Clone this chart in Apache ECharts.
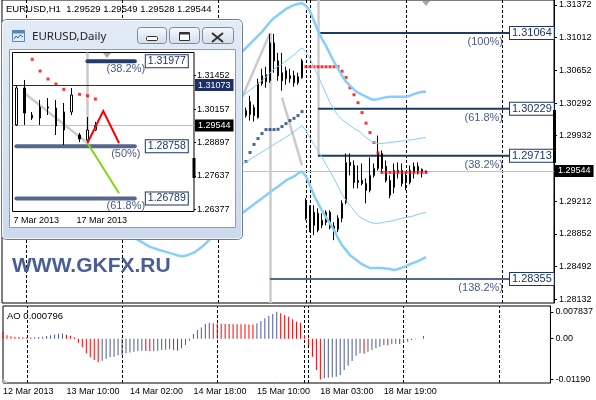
<!DOCTYPE html>
<html>
<head>
<meta charset="utf-8">
<title>EURUSD,H1</title>
<script src="https://cdn.jsdelivr.net/npm/echarts/dist/echarts.min.js"></script>
<style>
  html, body { margin: 0; padding: 0; background: #fff; }
  #chart { width: 596px; height: 400px; }
</style>
</head>
<body>
<div id="chart"></div>
<script>
// ---------------- EURUSD H1 ----------------
const symbol = 'EURUSD';
const hourDays = [['12 Mar', 18, 23], ['13 Mar', 0, 23], ['14 Mar', 0, 23], ['15 Mar', 0, 21],
                  ['17 Mar', 23, 23], ['18 Mar', 0, 23], ['19 Mar', 0, 23], ['20 Mar', 0, 13]];
const timeTicks = ['12 Mar 18:00', '13 Mar 10:00', '14 Mar 02:00', '14 Mar 18:00', '15 Mar 10:00', '18 Mar 03:00', '18 Mar 19:00'];
const timeTickText = { '12 Mar 18:00': '12 Mar 2013' };

const priceTicks = [1.31372, 1.31012, 1.30652, 1.30292, 1.29932, 1.29212, 1.28852, 1.28492, 1.28132];
const priceMin = 1.28090, priceMax = 1.31427;

// open, close, low, high
const candleStart = 61;
const candles = [
  [1.30154, 1.30209, 1.30132, 1.30242], [1.30165, 1.30307, 1.30099, 1.30373], [1.30242, 1.30154, 1.30088, 1.30275],
  [1.30132, 1.30516, 1.30121, 1.30560], [1.30505, 1.30593, 1.30483, 1.30670], [1.30604, 1.30527, 1.30461, 1.30692],
  [1.30538, 1.30955, 1.30516, 1.31054], [1.30955, 1.30757, 1.30626, 1.31054], [1.30757, 1.30593, 1.30538, 1.30845],
  [1.30626, 1.30538, 1.30428, 1.30845], [1.30648, 1.30560, 1.30494, 1.30692], [1.30560, 1.30593, 1.30516, 1.30670],
  [1.30593, 1.30516, 1.30472, 1.30648], [1.30516, 1.30582, 1.30494, 1.30626], [1.30571, 1.30757, 1.30560, 1.30779],
  [1.29221, 1.29023, 1.29001, 1.29243], [1.29133, 1.28892, 1.28870, 1.29166], [1.29089, 1.28946, 1.28837, 1.29166],
  [1.29078, 1.28892, 1.28870, 1.29133], [1.28946, 1.29001, 1.28913, 1.29078], [1.28979, 1.29089, 1.28946, 1.29111],
  [1.29089, 1.28924, 1.28902, 1.29111], [1.28935, 1.28902, 1.28782, 1.28979], [1.28902, 1.29023, 1.28870, 1.29056],
  [1.29023, 1.29188, 1.28979, 1.29221], [1.29199, 1.29638, 1.29177, 1.29737], [1.29638, 1.29605, 1.29495, 1.29737],
  [1.29605, 1.29418, 1.29353, 1.29660], [1.29418, 1.29440, 1.29353, 1.29605], [1.29440, 1.29407, 1.29385, 1.29627],
  [1.29407, 1.29331, 1.29188, 1.29462], [1.29331, 1.29495, 1.29309, 1.29693], [1.29495, 1.29572, 1.29473, 1.29627],
  [1.29572, 1.29737, 1.29550, 1.29934], [1.29737, 1.29572, 1.29528, 1.29770], [1.29594, 1.29440, 1.29418, 1.29660],
  [1.29440, 1.29276, 1.29243, 1.29495], [1.29364, 1.29550, 1.29298, 1.29627], [1.29528, 1.29550, 1.29462, 1.29638],
  [1.29550, 1.29407, 1.29374, 1.29627], [1.29484, 1.29418, 1.29331, 1.29528], [1.29418, 1.29550, 1.29396, 1.29605],
  [1.29528, 1.29594, 1.29462, 1.29638], [1.29594, 1.29550, 1.29506, 1.29638], [1.29539, 1.29561, 1.29473, 1.29572],
  [1.29529, 1.29544, 1.29528, 1.29549]
];

// Bollinger envelopes
const bandStart = 60;
const bbUpperWide = [1.30856, 1.30900, 1.30944, 1.30988, 1.31032, 1.31076, 1.31131, 1.31185, 1.31229, 1.31262, 1.31295,
  1.31328, 1.31350, 1.31372, 1.31383, 1.31394, 1.31361, 1.31306, 1.31196, 1.31087, 1.30999, 1.30922, 1.30834, 1.30746,
  1.30670, 1.30593, 1.30527, 1.30483, 1.30439, 1.30406, 1.30384, 1.30362, 1.30340, 1.30329, 1.30335, 1.30346, 1.30357,
  1.30362, 1.30362, 1.30362, 1.30362, 1.30362, 1.30373, 1.30390, 1.30406, 1.30417, 1.30417];
const bbUpperNarrow = [1.30368, 1.30401, 1.30434, 1.30467, 1.30505, 1.30538, 1.30582, 1.30626, 1.30665, 1.30697, 1.30724,
  1.30757, 1.30790, 1.30823, 1.30867, 1.30900, 1.30856, 1.30779, 1.30681, 1.30593, 1.30494, 1.30395, 1.30296, 1.30220,
  1.30154, 1.30110, 1.30077, 1.30044, 1.30011, 1.29989, 1.29956, 1.29912, 1.29879, 1.29857, 1.29846, 1.29846, 1.29852,
  1.29857, 1.29863, 1.29868, 1.29874, 1.29879, 1.29885, 1.29890, 1.29901, 1.29907, 1.29912];
const bbLowerNarrow = [1.29616, 1.29644, 1.29671, 1.29699, 1.29726, 1.29753, 1.29781, 1.29808, 1.29835, 1.29863, 1.29890,
  1.29918, 1.29945, 1.29978, 1.30011, 1.30044, 1.29989, 1.29912, 1.29835, 1.29770, 1.29693, 1.29616, 1.29539, 1.29462,
  1.29374, 1.29287, 1.29221, 1.29166, 1.29111, 1.29056, 1.29023, 1.29001, 1.28979, 1.28968, 1.28968, 1.28974, 1.28985,
  1.28990, 1.29001, 1.29012, 1.29023, 1.29034, 1.29040, 1.29051, 1.29067, 1.29078, 1.29089];
const bbLowerWideStart = 33;
const bbLowerWide = [1.28826, 1.28782, 1.28760, 1.28732, 1.28708, 1.28694, 1.28677, 1.28666, 1.28653, 1.28639, 1.28628,
  1.28612, 1.28606, 1.28612, 1.28628, 1.28645, 1.28677, 1.28710, 1.28749, 1.28793, 1.28826, 1.28859, 1.28892, 1.28924,
  1.28957, 1.29001, 1.29034, 1.29078,
  1.29111, 1.29144, 1.29177, 1.29210, 1.29243, 1.29276, 1.29309, 1.29342, 1.29374, 1.29407, 1.29440, 1.29462, 1.29484,
  1.29517, 1.29539, 1.29484, 1.29385, 1.29276, 1.29188, 1.29111, 1.29034, 1.28968, 1.28892, 1.28804, 1.28727, 1.28672,
  1.28617, 1.28584, 1.28551, 1.28518, 1.28496, 1.28475, 1.28475, 1.28475, 1.28475, 1.28469, 1.28464, 1.28453, 1.28464,
  1.28480, 1.28496, 1.28518, 1.28535, 1.28551, 1.28573, 1.28595];

// Parabolic SAR
const sarBelowStart = 61;
const sarBelow = [1.29649, 1.29748, 1.29836, 1.29901, 1.29956, 1.30000, 1.30000, 1.30000, 1.30003, 1.30033, 1.30066,
  1.30099, 1.30124, 1.30154, 1.30198];
const sarAboveStart = 76;
const sarAbove = [1.30692, 1.30692, 1.30692, 1.30692, 1.30692, 1.30692, 1.30692, 1.30692, 1.30692, 1.30642, 1.30574,
  1.30461, 1.30384, 1.30296, 1.30187, 1.30071, 1.29967, 1.29857, 1.29744, 1.29528, 1.29528, 1.29528, 1.29528, 1.29528,
  1.29528, 1.29528, 1.29528, 1.29528, 1.29528, 1.29528, 1.29528];

// Awesome Oscillator
const ao = [0.00204, 0.00097, 0.00068, 0.00058, 0.00049, 0.00044, 0.00039, 0.00034, 0.00039, 0.00049, 0.00058, 0.00078,
  0.00097, 0.00126, 0.00146, 0.00151, 0.00117, 0.00087, 0.00039, -0.00117, -0.00253, -0.00428, -0.00544, -0.00622,
  -0.00690, -0.00642, -0.00583, -0.00544, -0.00525, -0.00486, -0.00476, -0.00428, -0.00399, -0.00379, -0.00369, -0.00350,
  -0.00360, -0.00369, -0.00363, -0.00350, -0.00330, -0.00321, -0.00311, -0.00330, -0.00350, -0.00282, -0.00185, -0.00058,
  0.00136, 0.00253, 0.00330, 0.00428, 0.00467, 0.00447, 0.00440, 0.00436, 0.00432, 0.00428, 0.00425, 0.00422, 0.00420,
  0.00418, 0.00415, 0.00412, 0.00450, 0.00515, 0.00593, 0.00661, 0.00719, 0.007837, 0.00739, 0.00690, 0.00642, 0.00564,
  0.00496, 0.00467, 0.00107, -0.00185, -0.00525, -0.00910, -0.01190, -0.01157, -0.01137, -0.01128, -0.01108, -0.01060,
  -0.00914, -0.00787, -0.00651, -0.00496, -0.00428, -0.00440, -0.00379, -0.00330, -0.00282, -0.00233, -0.00185, -0.00190,
  -0.00156, -0.00150, -0.00155, -0.00117, -0.00087, -0.00039, -0.00019, 0.00002, 0.000796];
const aoTicks = [0.007837, 0, -0.0119];
const aoTickText = ['0.007837', '0.00', '-0.01190'];
const aoMin = -0.012922, aoMax = 0.009538;

// Fibonacci levels on the hourly chart
const fiboLevels = [1.31064, 1.30229, 1.29713, 1.28355];
const fiboNames = ['(100%)', '(61.8%)', '(38.2%)', '(138.2%)'];
const fiboFrom = [79, 79, 79, 67];
const fiboTo = 126.5;
const fiboColors = ['#1d3a63', '#1d3a63', '#1d3a63', '#55658f'];

// grey trend/anchor lines (bar index, price)
const greyLines = [
  [[79, priceMax], [79, 1.29713]],
  [[67, 1.31064], [67, priceMin]],
  [[59.5, 1.30351], [67, 1.31064]],
  [[70.25, 1.30351], [75.25, 1.29606]]
];

// ---------------- EURUSD Daily (window) ----------------
const days = ['7 Mar 2013', '8 Mar 2013', '10 Mar 2013', '11 Mar 2013', '12 Mar 2013', '13 Mar 2013', '14 Mar 2013',
  '15 Mar 2013', '17 Mar 2013', '18 Mar 2013', '19 Mar 2013', '20 Mar 2013', '21 Mar 2013', '22 Mar 2013', '24 Mar 2013',
  '25 Mar 2013', '26 Mar 2013', '27 Mar 2013', '28 Mar 2013', '29 Mar 2013', '31 Mar 2013', '1 Apr 2013', '2 Apr 2013'];
const dayTicks = ['7 Mar 2013', '17 Mar 2013'];
const dailyCandles = [
  [1.29564, 1.30962, 1.29526, 1.31076], [1.30962, 1.30017, 1.29564, 1.31265], [1.29942, 1.29828, 1.29753, 1.30055],
  [1.29828, 1.30244, 1.29564, 1.30509], [1.30244, 1.30206, 1.29942, 1.30584], [1.30206, 1.29526, 1.29186, 1.30509],
  [1.29375, 1.30055, 1.28808, 1.30395], [1.30055, 1.30698, 1.29942, 1.30962], [1.29186, 1.29034, 1.28921, 1.29261],
  [1.28997, 1.29375, 1.28883, 1.29866], [1.29375, 1.29544, 1.29337, 1.29677]
];
const dailySar = [[2, 1.32047], [3, 1.31605], [4, 1.31302], [5, 1.31113], [6, 1.30913], [8, 1.30724], [9, 1.30671], [10, 1.30546]];
const dailyTicks = [1.31452, 1.30157, 1.28897, 1.27637, 1.26377];
const dailyMin = 1.26294, dailyMax = 1.32304;
const dailyLine = 1.31073;
const dailyFibo = [1.31977, 1.28758, 1.26789];
const dailyFiboNames = ['(38.2%)', '(50%)', '(61.8%)'];
const dailyFiboFrom = [9, -0.2, -0.2];
const dailyFiboTo = 15;
const dailyFiboColors = ['#243d66', '#57668f', '#57668f'];
const dailyGrey = [[[9, dailyMax], [9, 1.28883]], [[1.4, 1.30770], [9, 1.28883]]];
const dailyZigzag = [[9, 1.28883], [11, 1.30093], [13, 1.28883]];
const dailyProjection = [[9, 1.28883], [13, 1.26982]];

// ---------------- derived ----------------
const hours = [];
for (const [d, h0, h1] of hourDays) {
  for (let h = h0; h <= h1; h++) hours.push(d + ' ' + String(h).padStart(2, '0') + ':00');
}
const separators = [];
for (let i = 1; i < hours.length; i++) {
  if (hours[i].slice(0, 6) !== hours[i - 1].slice(0, 6)) separators.push(hours[i]);
}
const last = candles[candles.length - 1];
const bid = last[1];
const titleText = symbol + ',H1  ' + [last[0], last[3], last[2], last[1]].map(v => v.toFixed(5)).join(' ');
const aoText = 'AO ' + ao[ao.length - 1].toFixed(6);

const FONT = '"Liberation Sans", Arial, sans-serif';
const indexed = (arr, start) => arr.map((v, k) => [start + k, v]);
const sepLine = {
  silent: true, symbol: 'none', animation: false, z: 1,
  label: { show: false },
  lineStyle: { color: '#000', type: [3, 2], width: 1 },
  data: separators.map(s => ({ xAxis: s }))
};

function fiboRender(cfg) {
  return function (params, api) {
    const i = params.dataIndex;
    const lvl = api.value(0);
    const a = api.coord([api.value(1), lvl]);
    const b = api.coord([api.value(2), lvl]);
    return {
      type: 'group',
      children: [
        { type: 'line', shape: { x1: a[0], y1: a[1], x2: b[0], y2: b[1] },
          style: { stroke: cfg.colors[i], lineWidth: cfg.width, lineCap: cfg.cap } },
        { type: 'text', x: b[0] + cfg.gap, y: b[1],
          style: { text: lvl.toFixed(5), fill: '#1c3566', font: cfg.boxFont, align: 'left', verticalAlign: 'middle',
                   backgroundColor: '#fff', borderColor: '#1c3566', borderWidth: 1, padding: [1, 2, 0, 2] } },
        { type: 'text', x: b[0] + cfg.pctDx, y: b[1] + cfg.pctDy,
          style: { text: cfg.names[i], fill: '#4c5a85', font: cfg.pctFont, align: cfg.pctAlign, verticalAlign: 'middle' } }
      ]
    };
  };
}

const grad = (c0, c1) => ({ type: 'linear', x: 0, y: 0, x2: 0, y2: 1, colorStops: [{ offset: 0, color: c0 }, { offset: 1, color: c1 }] });
const W = 50; // stacking level of the daily window
function button(x, w) {
  return { type: 'rect', z: W + 2, shape: { x: x, y: 27.5, width: w, height: 16, r: 3 },
           style: { fill: grad('#f6f9fc', '#d3deea'), stroke: '#7b8aa0', lineWidth: 1 } };
}

const option = {
  animation: false,
  backgroundColor: '#fff',
  textStyle: { fontFamily: FONT },
  grid: [
    { left: 2, top: -1, width: 552, height: 304, show: true, borderColor: '#000', borderWidth: 1, backgroundColor: 'transparent' },
    { left: 2, top: 306, width: 552, height: 77, show: true, borderColor: '#000', borderWidth: 1, backgroundColor: 'transparent' },
    { left: 12.5, top: 52.5, width: 181.5, height: 159, show: true, borderColor: '#000', borderWidth: 1, backgroundColor: '#fff', z: W + 5 }
  ],
  xAxis: [
    { type: 'category', gridIndex: 0, data: hours, boundaryGap: false,
      axisLine: { show: false }, axisTick: { show: false }, axisLabel: { show: false }, splitLine: { show: false } },
    { type: 'category', gridIndex: 1, data: hours, boundaryGap: false,
      axisLine: { show: false }, axisTick: { show: false }, splitLine: { show: false },
      axisLabel: { show: true, interval: (idx, val) => timeTicks.includes(val), align: 'left', margin: 4,
                   color: '#000', fontSize: 9, fontFamily: FONT,
                   formatter: v => timeTickText[v] || v } },
    { type: 'category', gridIndex: 2, data: days, boundaryGap: true, z: W + 10,
      axisLine: { show: false }, axisTick: { show: false }, splitLine: { show: false },
      axisLabel: { show: true, interval: (idx, val) => dayTicks.includes(val), align: 'left', margin: 5,
                   color: '#000', fontSize: 9, fontFamily: FONT, padding: [0, 0, 0, -3] } }
  ],
  yAxis: [
    { type: 'value', gridIndex: 0, position: 'right', min: priceMin, max: priceMax,
      axisLine: { show: true, lineStyle: { color: '#000' } },
      axisTick: { show: true, customValues: priceTicks, length: 3, lineStyle: { color: '#000' } },
      axisLabel: { show: true, customValues: priceTicks, margin: 5, color: '#000', fontSize: 9, fontFamily: FONT,
                   formatter: v => v.toFixed(5) },
      splitLine: { show: false } },
    { type: 'value', gridIndex: 1, position: 'right', min: aoMin, max: aoMax,
      axisLine: { show: true, lineStyle: { color: '#000' } },
      axisTick: { show: true, customValues: aoTicks, length: 3, lineStyle: { color: '#000' } },
      axisLabel: { show: true, customValues: aoTicks, margin: 5, color: '#000', fontSize: 9, fontFamily: FONT,
                   formatter: v => aoTickText[aoTicks.indexOf(v)] },
      splitLine: { show: false } },
    { type: 'value', gridIndex: 2, position: 'right', min: dailyMin, max: dailyMax, z: W + 10,
      axisLine: { show: false },
      axisTick: { show: true, customValues: dailyTicks, length: 2, lineStyle: { color: '#000' } },
      axisLabel: { show: true, customValues: dailyTicks, margin: 3, color: '#000', fontSize: 9, fontFamily: FONT,
                   formatter: v => v.toFixed(5) },
      splitLine: { show: false } }
  ],
  series: [
    // ----- hourly chart -----
    { type: 'line', xAxisIndex: 0, yAxisIndex: 0, data: indexed(bbUpperWide, bandStart), symbol: 'none', silent: true,
      lineStyle: { color: '#87cefa', width: 2.5 }, markLine: sepLine },
    { type: 'line', xAxisIndex: 0, yAxisIndex: 0, data: indexed(bbLowerWide, bbLowerWideStart), symbol: 'none', silent: true,
      lineStyle: { color: '#87cefa', width: 2.5 } },
    { type: 'line', xAxisIndex: 0, yAxisIndex: 0, data: indexed(bbUpperNarrow, bandStart), symbol: 'none', silent: true,
      lineStyle: { color: '#87cefa', width: 1 } },
    { type: 'line', xAxisIndex: 0, yAxisIndex: 0, data: indexed(bbLowerNarrow, bandStart), symbol: 'none', silent: true,
      lineStyle: { color: '#87cefa', width: 1 } },
    { type: 'lines', coordinateSystem: 'cartesian2d', xAxisIndex: 0, yAxisIndex: 0, silent: true,
      data: greyLines.map(c => ({ coords: c })), lineStyle: { color: '#cbcbcb', width: 2.5, opacity: 1 } },
    { type: 'custom', xAxisIndex: 0, yAxisIndex: 0, silent: true, encode: { x: [1, 2], y: 0 },
      data: fiboLevels.map((v, i) => [v, fiboFrom[i], fiboTo]),
      renderItem: fiboRender({ colors: fiboColors, names: fiboNames, width: 2, cap: 'butt', gap: 0,
        boxFont: '11px ' + FONT, pctFont: '11px ' + FONT, pctDx: -7, pctDy: 9, pctAlign: 'right' }) },
    { type: 'candlestick', xAxisIndex: 0, yAxisIndex: 0, barWidth: 2, silent: true,
      data: candles.map((c, k) => [candleStart + k].concat(c)), encode: { x: 0, y: [1, 2, 3, 4] },
      itemStyle: { color: '#fff', color0: '#000', borderColor: '#000', borderColor0: '#000', borderWidth: 1 },
      markLine: { silent: true, symbol: 'none', precision: 5, z: 1, data: [{ yAxis: bid }],
        lineStyle: { color: '#c0c0c0', type: 'solid', width: 1 },
        label: { show: true, position: 'end', distance: 1, formatter: p => Number(p.value).toFixed(5), color: '#fff',
                 backgroundColor: '#000', fontSize: 9, fontFamily: FONT, padding: [2, 3, 1, 3] } } },
    { type: 'scatter', xAxisIndex: 0, yAxisIndex: 0, data: indexed(sarBelow, sarBelowStart), symbol: 'rect',
      symbolSize: 3, silent: true, itemStyle: { color: '#1c3c7c' } },
    { type: 'scatter', xAxisIndex: 0, yAxisIndex: 0, data: indexed(sarAbove, sarAboveStart), symbol: 'rect',
      symbolSize: 3, silent: true, itemStyle: { color: '#ff0000' } },
    // ----- Awesome Oscillator -----
    { type: 'bar', xAxisIndex: 1, yAxisIndex: 1, data: ao, barWidth: 1, silent: true, markLine: sepLine,
      itemStyle: { color: p => (p.dataIndex === 0 || ao[p.dataIndex] < ao[p.dataIndex - 1]) ? '#ff0000' : '#4b5b94' } },
    // ----- daily window -----
    { type: 'lines', coordinateSystem: 'cartesian2d', xAxisIndex: 2, yAxisIndex: 2, silent: true, z: W + 11,
      data: dailyGrey.map(c => ({ coords: c })), lineStyle: { color: '#cbcbcb', width: 2.5, opacity: 1 } },
    { type: 'custom', xAxisIndex: 2, yAxisIndex: 2, silent: true, z: W + 12, encode: { x: [1, 2], y: 0 },
      data: dailyFibo.map((v, i) => [v, dailyFiboFrom[i], dailyFiboTo]),
      renderItem: fiboRender({ colors: dailyFiboColors, names: dailyFiboNames, width: 4, cap: 'round', gap: 11,
        boxFont: '10.5px ' + FONT, pctFont: '11px ' + FONT, pctDx: -9, pctDy: 8, pctAlign: 'center' }) },
    { type: 'candlestick', xAxisIndex: 2, yAxisIndex: 2, barWidth: 2, silent: true, z: W + 13,
      data: dailyCandles,
      itemStyle: { color: '#fff', color0: '#000', borderColor: '#000', borderColor0: '#000', borderWidth: 1 },
      markLine: { silent: true, symbol: 'none', precision: 5, z: W + 12, data: [
          { yAxis: dailyLine, lineStyle: { color: '#1c2f6b', width: 1, type: 'solid' },
            label: { backgroundColor: '#1c2f6b', color: '#fff' } },
          { yAxis: bid, lineStyle: { color: '#c0c0c0', width: 1, type: 'solid' },
            label: { backgroundColor: '#000', color: '#fff' } }
        ],
        label: { show: true, position: 'end', distance: 1, formatter: p => Number(p.value).toFixed(5),
                 fontSize: 9, fontFamily: FONT, padding: [2, 3, 1, 3] } } },
    { type: 'lines', coordinateSystem: 'cartesian2d', xAxisIndex: 2, yAxisIndex: 2, silent: true, z: W + 14,
      polyline: true, data: [{ coords: dailyZigzag }], lineStyle: { color: '#ff0000', width: 2, opacity: 1 } },
    { type: 'lines', coordinateSystem: 'cartesian2d', xAxisIndex: 2, yAxisIndex: 2, silent: true, z: W + 14,
      data: [{ coords: dailyProjection }], lineStyle: { color: '#7ed90f', width: 2, opacity: 1 } },
    { type: 'scatter', xAxisIndex: 2, yAxisIndex: 2, data: dailySar, symbol: 'rect', symbolSize: 3, silent: true,
      z: W + 15, itemStyle: { color: '#ff0000' } }
  ],
  graphic: [
    // header line and oscillator caption
    { type: 'text', z: 40, style: { x: 6, y: 9, text: titleText, font: '9.5px ' + FONT, fill: '#000', verticalAlign: 'middle' } },
    { type: 'text', z: 40, style: { x: 7, y: 316, text: aoText, font: '9.5px ' + FONT, fill: '#000', verticalAlign: 'middle' } },
    // broker watermark
    { type: 'text', z: 40, style: { x: 12, y: 266, text: 'WWW.GKFX.RU', font: 'bold 21px ' + FONT, fill: '#4b5d96', verticalAlign: 'middle' } },
    // chart-shift markers and scale handles
    { type: 'polygon', z: 40, shape: { points: [[422, 1], [430, 1], [426, 6]] }, style: { fill: '#a9a9a9' } },
    { type: 'rect', z: 40, shape: { x: 553, y: 110, width: 3, height: 53 }, style: { fill: '#000' } },
    { type: 'polygon', z: 40, shape: { points: [[2.5, 378], [2.5, 383], [7.5, 383]] }, style: { fill: '#b5b5b5' } },
    // daily window frame
    { type: 'rect', z: W, shape: { x: 1.5, y: 19.5, width: 241, height: 220, r: 5 },
      style: { fill: grad('#e2ecf7', '#cbdaec'), stroke: '#6b7d95', lineWidth: 1 } },
    { type: 'rect', z: W, shape: { x: 2.5, y: 20.5, width: 239, height: 218, r: 4 },
      style: { fill: 'none', stroke: '#f3f7fc', lineWidth: 1 } },
    { type: 'rect', z: W + 1, shape: { x: 9.5, y: 49.5, width: 226, height: 178 },
      style: { fill: '#fff', stroke: '#8d9db2', lineWidth: 1 } },
    // window icon and caption
    { type: 'rect', z: W + 2, shape: { x: 12.5, y: 30.5, width: 12, height: 11 }, style: { fill: '#dfeaf7', stroke: '#5a86b6' } },
    { type: 'rect', z: W + 2, shape: { x: 12.5, y: 30.5, width: 12, height: 3 }, style: { fill: '#5a86b6' } },
    { type: 'polyline', z: W + 3, shape: { points: [[14, 39], [16, 36], [18, 38], [20, 35], [23, 37]] },
      style: { stroke: '#3b6aa0', lineWidth: 1, fill: 'none' } },
    { type: 'text', z: W + 2, style: { x: 32, y: 37, text: 'EURUSD,Daily', font: '11.5px "Noto Sans", ' + FONT, fill: '#222', verticalAlign: 'middle' } },
    // caption buttons
    button(137.5, 29), button(169.5, 30), button(202.5, 31),
    { type: 'rect', z: W + 3, shape: { x: 146.5, y: 36.5, width: 11, height: 4, r: 1 }, style: { fill: '#fff', stroke: '#333' } },
    { type: 'rect', z: W + 3, shape: { x: 179.5, y: 32.5, width: 10, height: 8 }, style: { fill: '#fff', stroke: '#333' } },
    { type: 'line', z: W + 3, shape: { x1: 179.5, y1: 33.5, x2: 189.5, y2: 33.5 }, style: { stroke: '#333', lineWidth: 2 } },
    { type: 'line', z: W + 3, shape: { x1: 212, y1: 33, x2: 223, y2: 42 }, style: { stroke: '#333', lineWidth: 2 } },
    { type: 'line', z: W + 3, shape: { x1: 223, y1: 33, x2: 212, y2: 42 }, style: { stroke: '#333', lineWidth: 2 } },
    // daily chart-shift marker and scale handle
    { type: 'polygon', z: W + 20, shape: { points: [[103, 53], [111, 53], [107, 58]] }, style: { fill: '#a9a9a9' } },
    { type: 'rect', z: W + 20, shape: { x: 192.5, y: 158, width: 3, height: 20 }, style: { fill: '#000' } }
  ]
};

const chart = echarts.init(document.getElementById('chart'), null, { renderer: 'canvas' });
chart.setOption(option);
</script>
</body>
</html>
